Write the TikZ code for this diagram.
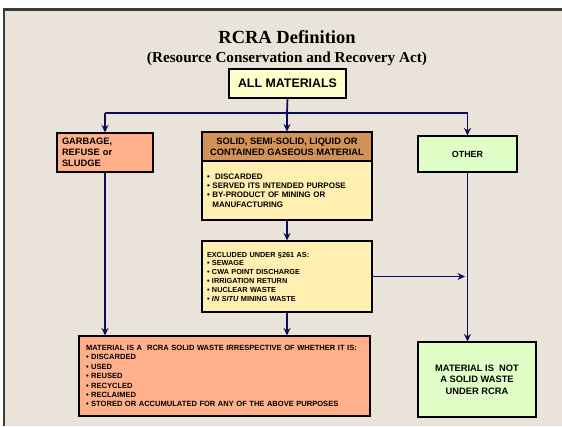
\documentclass[tikz,border=0pt]{standalone}
\usepackage{fontspec}
\setmainfont{Liberation Serif}
\newfontfamily\arialfont{Liberation Sans}
\usepackage{tikz}
\usetikzlibrary{calc}
\usetikzlibrary{arrows,arrows.meta}
\definecolor{slide}{HTML}{E9E3D9}
\definecolor{frameline}{HTML}{3C3C3C}
\definecolor{navy}{HTML}{0B0B5C}
\definecolor{paleyellow}{HTML}{FFFFCC}
\definecolor{salmon}{HTML}{FFAF8A}
\definecolor{tan}{HTML}{D39258}
\definecolor{cream}{HTML}{FFEFB0}
\definecolor{palegreen}{HTML}{E0FFC6}
\newcommand{\boxfont}[2]{\arialfont\bfseries\fontsize{#1}{#2}\selectfont}
\tikzset{
  box/.style={draw=black, line width=1.1pt, inner ysep=0pt, inner xsep=5pt},
  wire/.style={navy, line width=1.7pt},
  flow/.style={wire, ->, >={Stealth[length=7.5pt, width=7pt, inset=2.5pt]}},
}

\begin{document}
\begin{tikzpicture}[x=1pt, y=-1pt]
\useasboundingbox (0,0) rectangle (562,426);
\fill[white] (0,0) rectangle (562,426);
\fill[slide] (4,9.5) rectangle (562,426);
\draw[frameline, line width=2.2pt] (4,426) -- (4,9.5) -- (562,9.5);

% title
\node[anchor=base, inner sep=0] (title) at (287,43.5) {\fontsize{18.5}{20}\selectfont\bfseries RCRA Definition};
\node[anchor=base, inner sep=0] (subtitle) at (287,62.5) {\fontsize{15.2}{17}\selectfont\bfseries (Resource Conservation and Recovery Act)};

% boxes
\node[box, fill=paleyellow, minimum width=117pt, minimum height=29pt, font=\boxfont{12.4}{14}] (all) at (287.5,83.5)
  {ALL MATERIALS};
\node[box, fill=salmon, minimum width=96pt, minimum height=39pt, text width=86pt, align=left, font=\boxfont{9.3}{11}] (garbage) at (105,152.5)
  {GARBAGE,\\ REFUSE or\\ SLUDGE};
\node[box, fill=tan, minimum width=170pt, minimum height=29pt, align=center, font=\boxfont{9.3}{11}] (solid) at (287,146.5)
  {SOLID, SEMI-SOLID, LIQUID OR\\ CONTAINED GASEOUS MATERIAL};
\node[box, fill=cream, minimum width=170pt, minimum height=59pt, text width=160pt, align=left, font=\boxfont{8}{9.4}] (solidbody) at (287,190.5)
  {\textbullet\ \ DISCARDED\\ \textbullet\ SERVED ITS INTENDED PURPOSE\\ \textbullet\ BY-PRODUCT OF MINING OR\\ \phantom{\textbullet\ }MANUFACTURING};
\node[box, fill=palegreen, minimum width=99pt, minimum height=36pt, font=\boxfont{8.9}{10}] (other) at (467.5,154)
  {OTHER};
\node[box, fill=cream, minimum width=170pt, minimum height=71pt, text width=160pt, align=left, font=\boxfont{7.3}{8.8}] (excluded) at (287,276.5)
  {EXCLUDED UNDER \S261 AS:\\ \textbullet\ SEWAGE\\ \textbullet\ CWA POINT DISCHARGE\\ \textbullet\ IRRIGATION RETURN\\ \textbullet\ NUCLEAR WASTE\\ \textbullet\ \textit{IN SITU} MINING WASTE};
\node[box, fill=salmon, minimum width=291pt, minimum height=80pt, inner xsep=7pt, text width=277pt, align=left, font=\boxfont{7.55}{9.4}] (waste) at (224.5,376)
  {MATERIAL IS A\ \ RCRA SOLID WASTE IRRESPECTIVE OF WHETHER IT IS:\\ \textbullet\ DISCARDED\\ \textbullet\ USED\\ \textbullet\ REUSED\\ \textbullet\ RECYCLED\\ \textbullet\ RECLAIMED\\ \textbullet\ STORED OR ACCUMULATED FOR ANY OF THE ABOVE PURPOSES};
\node[box, fill=palegreen, minimum width=118pt, minimum height=75pt, align=center, font=\boxfont{9.3}{11.5}] (notwaste) at (477,379.5)
  {MATERIAL IS\ \ NOT\\ A SOLID WASTE\\ UNDER RCRA};

% connectors
\coordinate (split) at (287,113);
\coordinate (gap) at (465,276.5);
\draw[wire] (all.south) -- (split);
\draw[wire] (garbage.north |- split) -- (other.north |- split);
\foreach \n in {garbage,solid,other} {
  \draw[flow] (\n.north |- split) -- (\n.north);
}
\draw[flow] (garbage.south) -- (garbage.south |- waste.north);
\draw[flow] (solidbody.south) -- (excluded.north);
\draw[flow] (excluded.south) -- (excluded.south |- waste.north);
\draw[flow] (excluded.east) -- (gap);
\draw[flow] (other.south) -- (other.south |- notwaste.north);
\end{tikzpicture}
\end{document}
